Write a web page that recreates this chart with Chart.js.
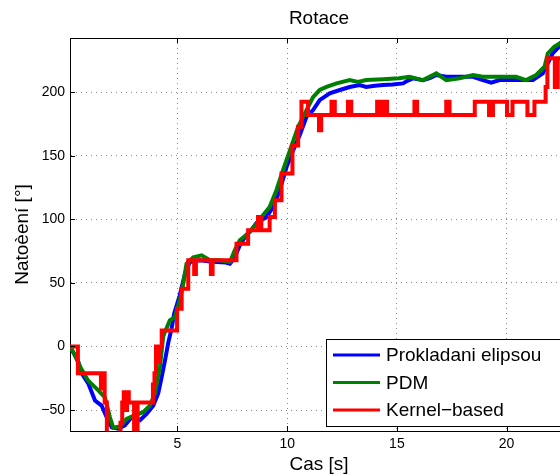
<!DOCTYPE html>
<html>
<head>
<meta charset="utf-8">
<script src="https://cdn.jsdelivr.net/npm/chart.js@4/dist/chart.umd.min.js"></script>
<style>
  body { margin: 0; background: #fff; }
  #wrap { width: 560px; height: 476px; overflow: hidden; }
</style>
</head>
<body>
<div id="wrap"><canvas id="rotace" width="600" height="476"></canvas></div>
<script>
// ticks
const xTicks = [5, 10, 15, 20];
const yTicks = [-50, 0, 50, 100, 150, 200];

// Prokladani elipsou
const elipsaT = [0.1, 0.48, 0.63, 0.93, 1.24, 1.54, 1.77, 2.0, 2.3, 2.6, 2.91, 3.29, 3.59, 3.9, 4.12, 4.28, 4.43, 4.58, 4.73, 4.85,
    5.1, 5.34, 5.56, 6.02, 6.4, 6.78, 7.2, 7.39, 7.61, 7.84, 8.15, 8.3, 8.6, 9.06, 9.36, 9.66, 9.97, 10.27, 10.57, 10.88,
    11.18, 11.48, 11.94, 12.4, 12.85, 13.3, 13.6, 14.0, 14.37, 14.8, 15.28, 15.5, 15.73, 16.19, 16.5, 16.8, 17.25, 17.86,
    18.47, 18.92, 19.3, 19.68, 20.43, 21.2, 21.65, 21.88, 22.1, 22.4, 22.8];
const elipsaY = [0, -12, -21, -29, -42.5, -46.5, -55.7, -63.5, -64.6, -62, -55.6, -58, -53, -46.5, -37, -24, -11, 3, 14, 26,
    40, 57, 66.4, 67.7, 67, 66.4, 66, 65, 70, 79.5, 88, 90, 97, 101.8, 109.7, 122.8, 141, 154, 166, 180.5,
    185.8, 193.7, 199, 201.6, 204, 205.5, 204, 205, 205.5, 206, 206.8, 209, 210.8, 209.4, 211, 213.4, 212, 212,
    212, 209.4, 207.3, 209.4, 209.4, 209.4, 214.7, 222.6, 230.4, 235.7, 242];

// PDM
const pdmT = [0.1, 0.3, 0.56, 0.93, 1.39, 1.69, 1.92, 2.07, 2.38, 2.68, 3.06, 3.44, 3.74, 3.97, 4.2, 4.35, 4.65, 4.88,
    5.1, 5.26, 5.41, 5.72, 6.1, 6.48, 6.93, 7.39, 7.61, 7.84, 8.3, 8.75, 9.2, 9.51, 9.81, 10.12, 10.5, 10.8,
    11.18, 11.48, 11.79, 12.25, 12.85, 13.23, 13.6, 14.37, 15.1, 15.57, 16.19, 16.8, 17.25, 17.86, 18.47, 18.92,
    19.68, 20.43, 20.89, 21.35, 21.73, 21.88, 22.18, 22.4, 22.8];
const pdmY = [0, -6, -16, -27, -34.6, -40, -55.7, -64, -63, -57, -54, -51.7, -46.5, -37, -16, 8, 20.5, 23,
    36, 49, 65, 70, 71.6, 67.7, 67.7, 66.4, 75.6, 83.5, 90, 100, 109.7, 122.8, 138.6, 154, 172.7, 183,
    196, 201.6, 204, 206.8, 209.4, 208, 209.4, 210, 210.8, 212, 209.4, 214.7, 209.4, 210.8, 213.4, 212,
    212, 212, 209.4, 213.4, 220, 230.4, 235.7, 238, 243];

// Kernel-based (schodovita)
const kernelT = [0.1, 0.46, 1.51, 1.6, 1.68, 1.78, 2.4, 2.48, 2.55, 2.62, 2.7, 2.78, 3.02, 3.18, 3.88, 3.95, 4.02, 4.1, 4.18, 4.28,
    4.98, 5.19, 5.49, 5.76, 5.84, 6.52, 6.6, 7.69, 8.22, 8.67, 8.82, 9.2, 9.44, 9.74, 10.24, 10.5, 10.65, 10.95,
    11.45, 11.55, 12.02, 12.17, 12.77, 12.92, 14.1, 14.25, 14.4, 14.55, 15.8, 15.92, 17.25, 17.4, 18.55, 19.2,
    19.38, 20.02, 20.27, 20.95, 21.27, 21.78, 21.86, 22.2, 22.33, 22.8];
const kernelY = [0, -21, -33, -21, -44, -70, -60, -44, -36, -50, -36, -44, -70, -44, -30, -21, 0, -12, 0, 12.6,
    29.7, 45.4, 67.7, 57, 67.7, 57, 67.7, 80.8, 91.3, 101.8, 91.3, 101.8, 115, 136, 158, 172.7, 192.4, 181.9,
    170, 181.9, 192.4, 181.9, 192.4, 181.9, 192.4, 181.9, 192.4, 181.9, 192.4, 181.9, 192.4, 181.9, 192.4, 181.9,
    192.4, 181.9, 192.4, 181.9, 192.4, 204, 226.5, 204, 226.5, 226.5];

const FONT = '"Liberation Sans", Arial, Helvetica, sans-serif';

function toPoints(ts, ys) {
    return ts.map((t, i) => ({ x: t, y: ys[i] }));
}

// MATLAB-like box: horni osa, tick znacky dovnitr, titulek, legenda
const matlabBox = {
    id: 'matlabBox',
    afterDraw(chart) {
        const ctx = chart.ctx;
        const a = chart.chartArea;
        const xs = chart.scales.x, ys = chart.scales.y;
        ctx.save();
        ctx.strokeStyle = '#000';
        ctx.lineWidth = 1;
        ctx.beginPath();
        ctx.moveTo(a.left, a.top + 0.5);
        ctx.lineTo(a.right, a.top + 0.5);
        ctx.moveTo(a.right - 0.5, a.top);
        ctx.lineTo(a.right - 0.5, a.bottom);
        xTicks.forEach(v => {
            const px = Math.round(xs.getPixelForValue(v)) + 0.5;
            ctx.moveTo(px, a.bottom); ctx.lineTo(px, a.bottom - 5);
            ctx.moveTo(px, a.top); ctx.lineTo(px, a.top + 5);
        });
        yTicks.forEach(v => {
            const py = Math.round(ys.getPixelForValue(v)) + 0.5;
            ctx.moveTo(a.left, py); ctx.lineTo(a.left + 5, py);
        });
        ctx.stroke();

        // titulek
        ctx.fillStyle = '#000';
        ctx.font = '19px ' + FONT;
        ctx.textAlign = 'center';
        ctx.textBaseline = 'middle';
        ctx.fillText('Rotace', (a.left + a.right) / 2, 19);

        // legenda
        const lx = 326.5, ly = 339.5, lw = 240, lh = 87;
        ctx.fillStyle = '#fff';
        ctx.fillRect(lx, ly, lw, lh);
        ctx.strokeRect(lx, ly, lw, lh);
        ctx.textAlign = 'left';
        chart.data.datasets.forEach((ds, i) => {
            const y = 355 + i * 27.5;
            ctx.strokeStyle = ds.borderColor;
            ctx.lineWidth = 3;
            ctx.beginPath();
            ctx.moveTo(333, y);
            ctx.lineTo(380, y);
            ctx.stroke();
            ctx.fillStyle = '#000';
            ctx.fillText(ds.label, 386, y + 1);
        });
        ctx.restore();
    }
};

const ctx = document.getElementById('rotace');
const chart = new Chart(ctx, {
    type: 'line',
    data: {
        datasets: [
            {
                label: 'Prokladani elipsou',
                data: toPoints(elipsaT, elipsaY),
                borderColor: '#0000ff',
                borderWidth: 4,
                pointRadius: 0,
                tension: 0,
                order: 2
            },
            {
                label: 'PDM',
                data: toPoints(pdmT, pdmY),
                borderColor: '#008000',
                borderWidth: 4,
                pointRadius: 0,
                tension: 0,
                order: 1
            },
            {
                label: 'Kernel\u2212based',
                data: toPoints(kernelT, kernelY),
                borderColor: '#ff0000',
                borderWidth: 4,
                pointRadius: 0,
                stepped: 'before',
                order: 0
            }
        ]
    },
    options: {
        responsive: false,
        animation: false,
        layout: { padding: { top: 38, right: 32, left: 0, bottom: 0 } },
        plugins: {
            legend: { display: false },
            tooltip: { enabled: false },
            title: { display: false }
        },
        scales: {
            x: {
                type: 'linear',
                min: 0.1,
                max: 22.8,
                afterBuildTicks: s => { s.ticks = xTicks.map(v => ({ value: v })); },
                afterFit: s => { s.height = 45; },
                grid: { color: '#8a8a8a', lineWidth: 1, drawTicks: false },
                border: { display: true, color: '#000', width: 1, dash: [1, 4] },
                ticks: { color: '#000', padding: 5, font: { family: FONT, size: 14 } },
                title: { display: true, text: 'Cas [s]', color: '#000', font: { family: FONT, size: 19 }, padding: { top: 0, bottom: 0 } }
            },
            y: {
                min: -66.5,
                max: 242.5,
                afterBuildTicks: s => { s.ticks = yTicks.map(v => ({ value: v })); },
                afterFit: s => { s.width = 70; },
                grid: { color: '#8a8a8a', lineWidth: 1, drawTicks: false },
                border: { display: true, color: '#000', width: 1, dash: [1, 4] },
                ticks: {
                    color: '#000', padding: 5, font: { family: FONT, size: 14 },
                    callback: v => String(v).replace('-', '\u2212')
                },
                title: { display: true, text: 'Natoèení [°]', color: '#000', font: { family: FONT, size: 19 }, padding: { top: 11, bottom: 0 } }
            }
        }
    },
    plugins: [matlabBox]
});
</script>
</body>
</html>
